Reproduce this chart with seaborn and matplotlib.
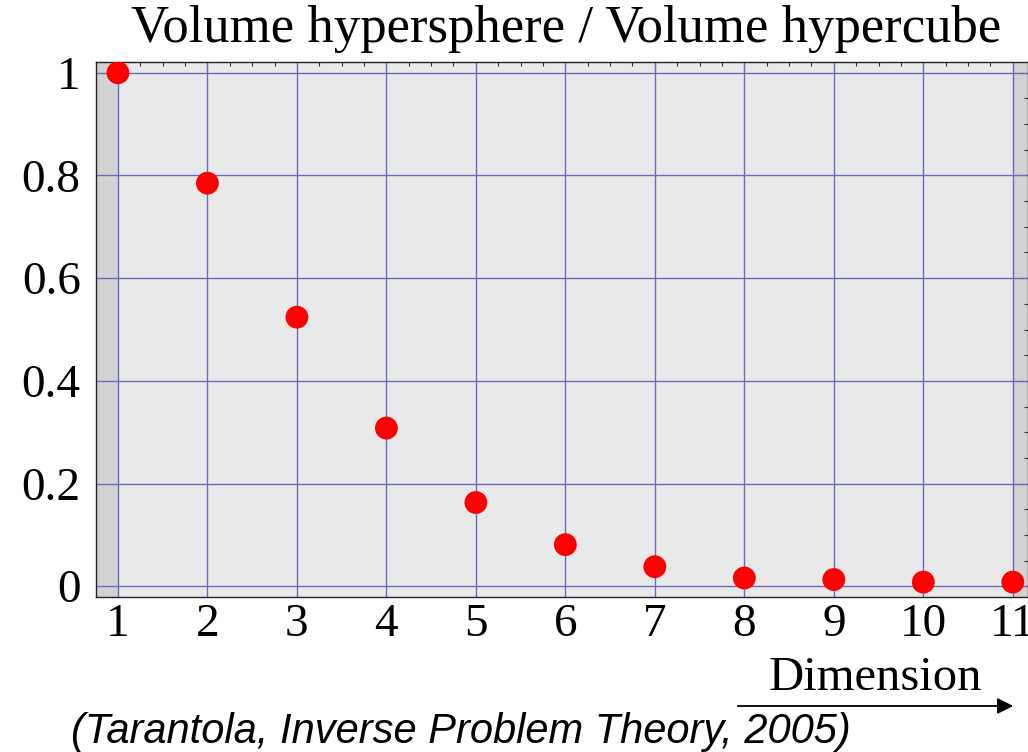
import matplotlib
matplotlib.use("Agg")
import matplotlib.pyplot as plt
from matplotlib.patches import FancyArrowPatch
from matplotlib.ticker import MultipleLocator
import seaborn as sns
import pandas as pd

dimensions = [1, 2, 3, 4, 5, 6, 7, 8, 9, 10, 11]
volume_ratio = [1.0, 0.785, 0.524, 0.308, 0.163, 0.081, 0.038, 0.016, 0.013, 0.008, 0.008]
y_ticks = [0, 0.2, 0.4, 0.6, 0.8, 1.0]
y_tick_labels = ["0", "0.2", "0.4", "0.6", "0.8", "1"]

df = pd.DataFrame({"dimension": dimensions, "ratio": volume_ratio})

sns.set_theme(style="white")
plt.rcParams["font.family"] = ["Liberation Serif", "DejaVu Serif"]
plt.rcParams["text.color"] = "black"

W, H = 1028, 752
fig = plt.figure(figsize=(W / 100, H / 100), dpi=100)
ax = fig.add_axes([96 / W, 1 - 597 / H, (W - 96) / W, (597 - 62) / H])

x_lo, x_hi = 0.755, 11.17
y_lo, y_hi = -0.021, 1.021
ax.set_xlim(x_lo, x_hi)
ax.set_ylim(y_lo, y_hi)

# light panel, darker bands outside the data range
ax.set_facecolor("#e9e9e9")
ax.axvspan(x_lo, 1, color="#d2d2d2", zorder=0)
ax.axvspan(11, x_hi, color="#d2d2d2", zorder=0)

grid_color = "#6a6ac0"
for xv in dimensions:
    ax.axvline(xv, color=grid_color, lw=1.0, zorder=1)
for yv in y_ticks:
    ax.axhline(yv, color=grid_color, lw=1.0, zorder=1)

sns.scatterplot(data=df, x="dimension", y="ratio", ax=ax, color="#ff0000",
                s=270, edgecolor="none", zorder=3, legend=False)

ax.set_xticks(dimensions)
ax.set_xticklabels([str(d) for d in dimensions])
ax.set_yticks(y_ticks)
ax.set_yticklabels(y_tick_labels)
ax.xaxis.set_minor_locator(MultipleLocator(0.25))
ax.yaxis.set_minor_locator(MultipleLocator(0.05))
ax.tick_params(axis="both", which="both", direction="in", top=True, right=True,
               colors="#333333", labelcolor="black", labelsize=34, width=0.8)
ax.tick_params(which="major", length=6)
ax.tick_params(which="minor", length=3)
ax.tick_params(axis="x", pad=5)
ax.tick_params(axis="y", pad=11)
ax.set_xlabel("")
ax.set_ylabel("")
for sp in ax.spines.values():
    sp.set_color("#222222")
    sp.set_linewidth(1.0)

fig.text(566 / W, 1 - 42 / H, "Volume hypersphere / Volume hypercube",
         ha="center", va="baseline", fontsize=38)
fig.text(875 / W, 1 - 690 / H, "Dimension", ha="center", va="baseline", fontsize=35)
fig.add_artist(FancyArrowPatch(
    (735 / W, 1 - 706 / H), (1016 / W, 1 - 706 / H),
    transform=fig.transFigure, arrowstyle="-|>", mutation_scale=24,
    color="black", lw=1.3))
fig.text(461 / W, 1 - 743 / H, "(Tarantola, Inverse Problem Theory, 2005)",
         ha="center", va="baseline", fontsize=30, style="italic",
         family=["Liberation Sans", "DejaVu Sans"])

fig.savefig("out.png", dpi=100)
